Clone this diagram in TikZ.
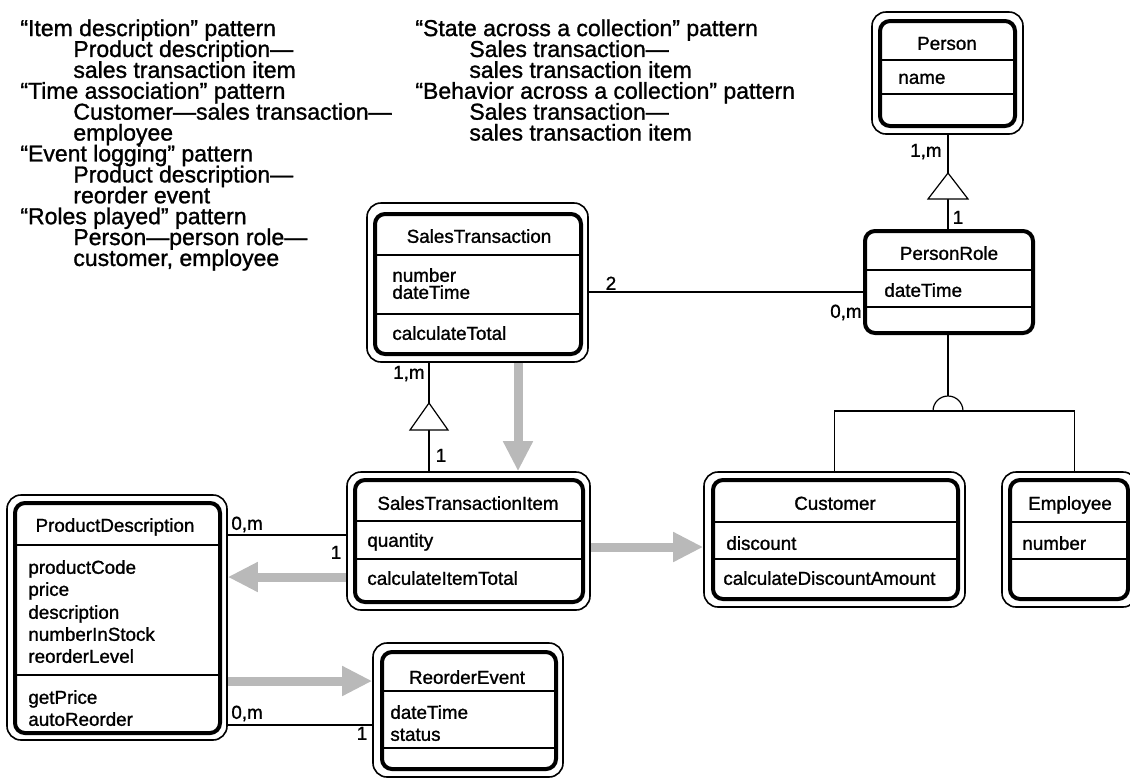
\documentclass[tikz,border=0pt]{standalone}
\usepackage{fontspec}
\setmainfont{Liberation Sans}[FakeBold=1.2]
\usetikzlibrary{fit,arrows.meta}
\newcommand\umlfont{\fontsize{9.4}{10}\selectfont}
\newcommand\notefont{\fontsize{11.5}{10.45}\selectfont\lineskiplimit=-20pt\relax}
\tikzset{
  outerS/.style={draw, line width=0.8pt, rounded corners=7pt, inner sep=0pt},
  innerS/.style={draw, line width=2pt, rounded corners=5pt, inner sep=0pt},
  div/.style={line width=0.55pt},
  conn/.style={line width=0.6pt},
  cname/.style={font=\umlfont, inner sep=0pt, text height=6.8pt, text depth=0pt},
  attr/.style={font=\umlfont, inner sep=0pt, anchor=west, text height=6.8pt, text depth=0pt},
  mult/.style={font=\umlfont, inner sep=0pt, text height=6.8pt, text depth=0pt},
  note/.style={font=\notefont, inner sep=0pt, anchor=north west, align=left},
  msg/.style={line width=4.5pt, draw=gray!55, -{Triangle[length=15pt,width=14pt]}},
  gtri/.style={conn, fill=white}
}
\begin{document}
\begin{tikzpicture}[x=0.5pt,y=-0.5pt]
\useasboundingbox (0,0) rectangle (1130,778);
\clip (0,0) rectangle (1130,778);

% ---------- notes ----------
\node[note] (n1) at (20,19) {“Item description” pattern\\
\hspace*{26.5pt}Product description—\\
\hspace*{26.5pt}sales transaction item\\
“Time association” pattern\\
\hspace*{26.5pt}Customer—sales transaction—\\
\hspace*{26.5pt}employee\\
“Event logging” pattern\\
\hspace*{26.5pt}Product description—\\
\hspace*{26.5pt}reorder event\\
“Roles played” pattern\\
\hspace*{26.5pt}Person—person role—\\
\hspace*{26.5pt}customer, employee};
\node[note] (n2) at (415,19) {“State across a collection” pattern\\
\hspace*{27pt}Sales transaction—\\
\hspace*{27pt}sales transaction item\\
“Behavior across a collection” pattern\\
\hspace*{27pt}Sales transaction—\\
\hspace*{27pt}sales transaction item};

% ---------- Person ----------
\node[outerS, fit={(872,12)(1023,134)}] (personO) {};
\node[innerS, fit={(880,21)(1015,126)}] (person) {};
\draw[div] (person.west |- 0,60) -- (person.east |- 0,60);
\draw[div] (person.west |- 0,94) -- (person.east |- 0,94);
\node[cname] (personN) at (947,43) {Person};
\node[attr] (personA) at (898,77) {name};

% ---------- PersonRole ----------
\node[innerS, fit={(865,231)(1033,333)}] (pr) {};
\draw[div] (pr.west |- 0,270) -- (pr.east |- 0,270);
\draw[div] (pr.west |- 0,307) -- (pr.east |- 0,307);
\node[cname] (prN) at (949,253) {PersonRole};
\node[attr] (prA) at (884,290) {dateTime};

% ---------- SalesTransaction ----------
\node[outerS, fit={(367,203)(588,362)}] (stO) {};
\node[innerS, fit={(375,214)(581,354)}] (st) {};
\draw[div] (st.west |- 0,255) -- (st.east |- 0,255);
\draw[div] (st.west |- 0,314) -- (st.east |- 0,314);
\node[cname] (stN) at (479,236) {SalesTransaction};
\node[attr] (stA1) at (392,275) {number};
\node[attr] (stA2) at (392,292) {dateTime};
\node[attr] (stM1) at (392,333) {calculateTotal};

% ---------- SalesTransactionItem ----------
\node[outerS, fit={(347,472)(590,610)}] (stiO) {};
\node[innerS, fit={(355,480)(583,602)}] (sti) {};
\draw[div] (sti.west |- 0,521) -- (sti.east |- 0,521);
\draw[div] (sti.west |- 0,559) -- (sti.east |- 0,559);
\node[cname] (stiN) at (468,503) {SalesTransactionItem};
\node[attr] (stiA) at (367,540) {quantity};
\node[attr] (stiM) at (367,578) {calculateItemTotal};

% ---------- Customer ----------
\node[outerS, fit={(704,472)(965,607)}] (custO) {};
\node[innerS, fit={(713,480)(958,599)}] (cust) {};
\draw[div] (cust.west |- 0,522) -- (cust.east |- 0,522);
\draw[div] (cust.west |- 0,559) -- (cust.east |- 0,559);
\node[cname] (custN) at (835,503) {Customer};
\node[attr] (custA) at (726,543) {discount};
\node[attr] (custM) at (723,578) {calculateDiscountAmount};

% ---------- Employee ----------
\node[outerS, fit={(1002,472)(1137,607)}] (empO) {};
\node[innerS, fit={(1010,480)(1128,599)}] (emp) {};
\draw[div] (emp.west |- 0,522) -- (emp.east |- 0,522);
\draw[div] (emp.west |- 0,559) -- (emp.east |- 0,559);
\node[cname] (empN) at (1070,503) {Employee};
\node[attr] (empA) at (1022,543) {number};

% ---------- ProductDescription ----------
\node[outerS, fit={(7,495)(227,740)}] (pdO) {};
\node[innerS, fit={(15,503)(220,733)}] (pd) {};
\draw[div] (pd.west |- 0,545) -- (pd.east |- 0,545);
\draw[div] (pd.west |- 0,675) -- (pd.east |- 0,675);
\node[cname] (pdN) at (115,525) {ProductDescription};
\node[attr] (pdA1) at (28,567) {productCode};
\node[attr] (pdA2) at (28,589) {price};
\node[attr] (pdA3) at (28,612) {description};
\node[attr] (pdA4) at (28,634) {numberInStock};
\node[attr] (pdA5) at (28,656) {reorderLevel};
\node[attr] (pdM1) at (28,697) {getPrice};
\node[attr] (pdM2) at (28,719) {autoReorder};

% ---------- ReorderEvent ----------
\node[outerS, fit={(373,643)(563,777)}] (reO) {};
\node[innerS, fit={(382,652)(556,769)}] (re) {};
\draw[div] (re.west |- 0,691) -- (re.east |- 0,691);
\draw[div] (re.west |- 0,748) -- (re.east |- 0,748);
\node[cname] (reN) at (467,677) {ReorderEvent};
\node[attr] (reA1) at (390,712) {dateTime};
\node[attr] (reA2) at (390,734) {status};

% ---------- associations ----------
\draw[conn] (stO.east |- 0,292) -- (pr.west |- 0,292);
\node[mult] (m1) at (611,283) {2};
\node[mult, anchor=east] (m2) at (862,311) {0,m};

\draw[conn] (pdO.east |- 0,535) -- (stiO.west |- 0,535);
\node[mult, anchor=west] (m3) at (231,523) {0,m};
\node[mult] (m4) at (336,552) {1};

\draw[conn] (pdO.east |- 0,725) -- (reO.west |- 0,725);
\node[mult, anchor=west] (m5) at (231,712) {0,m};
\node[mult] (m6) at (362,733) {1};

% ---------- aggregation Person - PersonRole ----------
\draw[conn] (personO.south -| 948,0) -- (pr.north -| 948,0);
\draw[gtri] (948,173) -- (968,199) -- (928,199) -- cycle;
\node[mult, anchor=east] (m7) at (942,150) {1,m};
\node[mult] (m8) at (958,217) {1};

% ---------- aggregation SalesTransaction - SalesTransactionItem ----------
\draw[conn] (stO.south -| 429,0) -- (stiO.north -| 429,0);
\draw[gtri] (429,403) -- (448,430) -- (410,430) -- cycle;
\node[mult, anchor=east] (m9) at (425,372) {1,m};
\node[mult] (m10) at (441,455) {1};

% ---------- generalization PersonRole - Customer/Employee ----------
\coordinate (eTop) at ([xshift=2.5pt]empO.north);
\draw[conn] (custO.north) -- (custO.north |- 0,411) -- (eTop |- 0,411) -- (eTop);
\draw[conn] (pr.south -| 948,0) -- (948,396);
\draw[conn, fill=white] (933,411) arc[start angle=180, end angle=360, radius=15] -- cycle;
\draw[conn] (custO.north |- 0,411) -- (eTop |- 0,411);

% ---------- message arrows ----------
\draw[msg] (stO.south -| 518,0) -- (stiO.north -| 518,0);
\draw[msg] (stiO.east |- 0,547) -- (custO.west |- 0,547);
\draw[msg] (stiO.west |- 0,577) -- (pdO.east |- 0,577);
\draw[msg] (pdO.east |- 0,681) -- (reO.west |- 0,681);
\end{tikzpicture}
\end{document}
